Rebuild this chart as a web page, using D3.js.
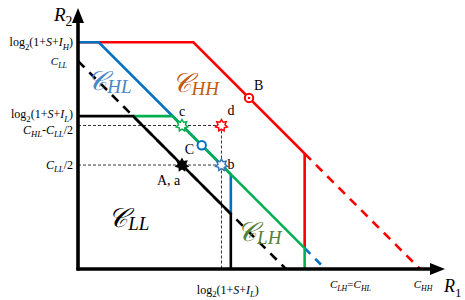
<!DOCTYPE html>
<html>
<head>
<meta charset="utf-8">
<script src="https://cdn.jsdelivr.net/npm/d3@7"></script>
<style>
  body { margin: 0; background: #fff; }
  svg { display: block; font-family: "Liberation Serif", "DejaVu Serif", serif; }
</style>
</head>
<body>
<svg id="chart" width="465" height="300"></svg>
<script>
// rate levels (arbitrary units, C_LL = 2)
var capLL = 2.0, capHL = 2.38, capHH = 3.29;
var rateH = 2.18, rateL = 1.47;
var axisMax = [3.53, 2.51];

// region boundaries (built from the levels above)
var boundHH = [[0, rateH], [capHH - rateH, rateH], [rateH, capHH - rateH], [rateH, capHL - rateH]];
var boundHL = [[0, rateH], [capHL - rateH, rateH], [rateL, capHL - rateL], [rateL, capLL - rateL]];
var boundLH = [[capLL - rateL, rateL], [capHL - rateL, rateL], [rateH, capHL - rateH], [rateH, 0]];
var boundLL = [[0, rateL], [capLL - rateL, rateL], [rateL, capLL - rateL], [rateL, 0]];
var dashLL = [[0, capLL], [capLL, 0]];
var dashHL = [[rateH, capHL - rateH], [capHL, 0]];
var dashHH = [[rateH, capHH - rateH], [capHH, 0]];

// operating points
var pointNames = ['A, a', 'b', 'c', 'd', 'C', 'B'];
var pointX = [capLL / 2, capHL - capLL / 2, capLL / 2, capHL - capLL / 2, capHL / 2, capHH / 2];
var pointY = [capLL / 2, capLL / 2, capHL - capLL / 2, capHL - capLL / 2, capHL / 2, capHH / 2];
var pointShape = ['star', 'star', 'star', 'star', 'circle', 'dot'];
var pointColor = ['#000', '#2e75b6', '#00b050', '#ff0000', '#0070c0', '#ff0000'];

// tick labels: [text, style] parts
var yTickVals = [rateH, capLL, rateL, capHL - capLL / 2, capLL / 2];
var yTickLabels = [
  [['log'], ['2', 'sub'], ['(1+'], ['S', 'i'], ['+'], ['I', 'i'], ['H', 'isub'], [')']],
  [['C', 'i'], ['LL', 'isub']],
  [['log'], ['2', 'sub'], ['(1+'], ['S', 'i'], ['+'], ['I', 'i'], ['L', 'isub'], [')']],
  [['C', 'i'], ['HL', 'isub'], ['-'], ['C', 'i'], ['LL', 'isub'], ['/2']],
  [['C', 'i'], ['LL', 'isub'], ['/2']]
];
var xTickVals = [rateL, capHL, capHH];
var xTickLabels = [
  [['log'], ['2', 'sub'], ['(1+'], ['S', 'i'], ['+'], ['I', 'i'], ['L', 'isub'], [')']],
  [['C', 'i'], ['LH', 'isub'], ['='], ['C', 'i'], ['HL', 'isub']],
  [['C', 'i'], ['HH', 'isub']]
];

var svg = d3.select('#chart');
var x = d3.scaleLinear().domain([0, axisMax[0]]).range([78, 445]);
var y = d3.scaleLinear().domain([0, axisMax[1]]).range([269, 8]);
var line = d3.line().x(function(d) { return x(d[0]); }).y(function(d) { return y(d[1]); });

function rich(g, parts, size) {
  var t = g.append('text').attr('font-size', size);
  var shift = 0;
  parts.forEach(function(p) {
    var st = p[1] || '';
    var down = (st === 'sub' || st === 'isub') ? size * 0.28 : 0;
    t.append('tspan')
      .attr('dy', down - shift)
      .attr('font-size', down ? size * 0.72 : size)
      .attr('font-style', (st === 'i' || st === 'isub') ? 'italic' : 'normal')
      .text(p[0]);
    shift = down;
  });
  return t;
}

// helper dashed guides
var guide = svg.append('g').attr('stroke', '#333').attr('stroke-width', 1)
  .attr('stroke-dasharray', '3,2').attr('fill', 'none');
guide.append('path').attr('d', line([[0, capHL - capLL / 2], [capHL - capLL / 2, capHL - capLL / 2]]));
guide.append('path').attr('d', line([[0, capLL / 2], [capHL - capLL / 2, capLL / 2]]));
guide.append('path').attr('d', line([[capHL - capLL / 2, capHL - capLL / 2], [capHL - capLL / 2, 0]]));

// region boundaries
function bound(pts, color, dash) {
  svg.append('path').attr('d', line(pts)).attr('fill', 'none')
    .attr('stroke', color).attr('stroke-width', 2.6)
    .attr('stroke-dasharray', dash || null);
}
bound(dashHH, '#ff0000', '9,7');
bound(dashHL, '#0070c0', '8,7');
bound(dashLL, '#000', '9,7');
bound(boundHH, '#ff0000');
bound(boundHL, '#0070c0');
bound(boundLH, '#00b050');
bound(boundLL, '#000');

// axes
svg.append('line').attr('x1', x(0)).attr('y1', y(0) + 1.5).attr('x2', x(0)).attr('y2', y(axisMax[1]) + 12)
  .attr('stroke', '#000').attr('stroke-width', 3.6);
svg.append('line').attr('x1', x(0) - 1.5).attr('y1', y(0)).attr('x2', x(axisMax[0]) - 12).attr('y2', y(0))
  .attr('stroke', '#000').attr('stroke-width', 3.6);
svg.append('path').attr('fill', '#000')
  .attr('d', 'M' + x(0) + ',' + y(axisMax[1]) + 'l-6,15h12z');
svg.append('path').attr('fill', '#000')
  .attr('d', 'M' + x(axisMax[0]) + ',' + y(0) + 'l-15,-6v12z');

// axis titles
rich(svg.append('g').attr('transform', 'translate(54,21)'), [['R', 'i'], ['2', 'sub']], 19);
rich(svg.append('g').attr('transform', 'translate(444,292)'), [['R', 'i'], ['1', 'sub']], 18);

// tick labels
var yTickShift = [4, 4, 2, 8, 4];
yTickVals.forEach(function(v, i) {
  var small = i === 1;
  rich(svg.append('g').attr('transform', 'translate(' + (small ? 67 : 73) + ',' + (y(v) + yTickShift[i]) + ')'),
    yTickLabels[i], small ? 11 : 12).attr('text-anchor', 'end');
});
var xTickShift = [-3, 25, 3];
xTickVals.forEach(function(v, i) {
  var big = i === 0;
  rich(svg.append('g').attr('transform', 'translate(' + (x(v) + xTickShift[i]) + ',' + (big ? 294 : 288) + ')'),
    xTickLabels[i], big ? 12 : 11).attr('text-anchor', 'middle');
});

// region names
var regionNames = ['HL', 'HH', 'LL', 'LH'];
var regionColor = ['#4a86c5', '#c55a11', '#000', '#548235'];
var regionAt = [[0.09, 1.72], [0.9, 1.7], [0.29, 0.4], [1.53, 0.27]];
regionNames.forEach(function(n, i) {
  var t = svg.append('text').attr('x', x(regionAt[i][0])).attr('y', y(regionAt[i][1]))
    .attr('fill', regionColor[i]).attr('font-family', '"DejaVu Serif", serif');
  t.append('tspan').attr('font-size', 27).attr('font-style', 'italic').text('\u{1D49E}');
  t.append('tspan').attr('font-size', 19).attr('font-style', 'italic').attr('dy', 3)
    .attr('font-family', '"Liberation Serif", serif').text(n);
});

// markers
function starPath(r0, r1, n) {
  var p = [];
  for (var k = 0; k < 2 * n; k++) {
    var a = Math.PI * k / n - Math.PI / 2, r = k % 2 ? r1 : r0;
    p.push([r * Math.cos(a), r * Math.sin(a)]);
  }
  return 'M' + p.join('L') + 'Z';
}
var labelOff = [[-25, 20], [6, 4], [-3, -10], [6, -11], [-17, 9], [5, -8]];
pointNames.forEach(function(n, i) {
  var g = svg.append('g').attr('transform', 'translate(' + x(pointX[i]) + ',' + y(pointY[i]) + ')');
  if (pointShape[i] === 'star') {
    g.append('path').attr('d', starPath(6, 3.6, 7)).attr('fill', i === 0 ? '#000' : '#fff')
      .attr('stroke', pointColor[i]).attr('stroke-width', 1.5);
  } else {
    g.append('circle').attr('r', 4.2).attr('fill', '#fff').attr('stroke', pointColor[i]).attr('stroke-width', 2);
    if (pointShape[i] === 'dot') g.append('circle').attr('r', 1.3).attr('fill', pointColor[i]);
  }
  g.append('text').attr('x', labelOff[i][0]).attr('y', labelOff[i][1]).attr('font-size', 14).text(n);
});
</script>
</body>
</html>
